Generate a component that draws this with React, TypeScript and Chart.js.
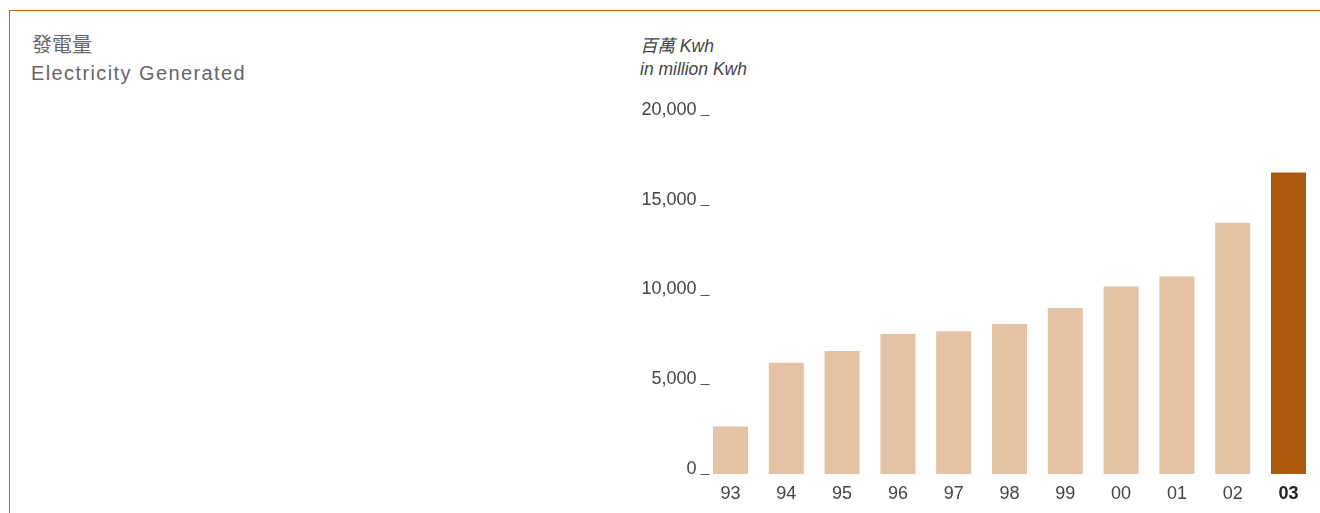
import React, { useEffect, useRef } from "react";
import { Chart, registerables } from "chart.js";

Chart.register(...registerables);

const years = ["93", "94", "95", "96", "97", "98", "99", "00", "01", "02", "03"];
const generated = [2650, 6200, 6850, 7800, 7950, 8350, 9250, 10450, 11000, 14000, 16800];
const yTicks = [0, 5000, 10000, 15000, 20000];

const LIGHT = "#e5c2a4";
const DARK = "#ab5a10";
const FONT = "'Liberation Sans', Arial, Helvetica, sans-serif";

const tickMarks = {
  id: "tickMarks",
  afterDraw(chart: any) {
    const y = chart.scales.y;
    const ctx = chart.ctx;
    const left = chart.chartArea.left;
    ctx.save();
    ctx.strokeStyle = "#555";
    ctx.lineWidth = 1;
    for (const v of yTicks) {
      const py = Math.round(y.getPixelForValue(v)) + 0.5;
      ctx.beginPath();
      ctx.moveTo(left - 2, py);
      ctx.lineTo(left + 7, py);
      ctx.stroke();
    }
    ctx.restore();
  },
};

export default function App() {
  const ref = useRef<HTMLCanvasElement | null>(null);

  useEffect(() => {
    if (!ref.current) return;
    const last = years.length - 1;
    const chart = new Chart(ref.current, {
      type: "bar",
      data: {
        labels: years,
        datasets: [
          {
            data: generated,
            backgroundColor: generated.map((_, i) => (i === last ? DARK : LIGHT)),
            borderWidth: 0,
            barPercentage: 0.627,
            categoryPercentage: 1,
          },
        ],
      },
      options: {
        animation: false,
        responsive: false,
        maintainAspectRatio: false,
        layout: { padding: { left: 0, right: 3.6, top: 25, bottom: 0 } },
        plugins: { legend: { display: false }, tooltip: { enabled: false }, title: { display: false } },
        scales: {
          x: {
            offset: true,
            border: { display: false },
            grid: { display: false, drawTicks: false },
            afterFit: (s: any) => {
              s.height = 39;
            },
            ticks: {
              padding: 9,
              font: (c: any) => ({
                family: FONT,
                size: 18,
                weight: c.index === last ? "bold" : "normal",
              }),
              color: (c: any) => (c.index === last ? "#222" : "#444"),
            },
          },
          y: {
            min: 0,
            max: 20000,
            border: { display: false },
            grid: { display: false, drawTicks: false },
            afterFit: (s: any) => {
              s.width = 82.6;
            },
            afterBuildTicks: (s: any) => {
              s.ticks = yTicks.map((v) => ({ value: v }));
            },
            ticks: {
              padding: 6,
              labelOffset: -5,
              font: { family: FONT, size: 18 },
              color: "#444",
              callback: (v: any) => Number(v).toLocaleString("en-US"),
            },
          },
        },
      },
      plugins: [tickMarks],
    });
    return () => chart.destroy();
  }, []);

  return (
    <div
      style={{
        position: "fixed",
        left: 0,
        top: 0,
        width: 1320,
        height: 513,
        overflow: "hidden",
        background: "#fff",
        fontFamily: FONT,
      }}
    >
      <div
        style={{
          position: "absolute",
          left: 9,
          top: 10,
          width: 1400,
          height: 600,
          borderTop: "1.5px solid #bb641c",
          borderLeft: "1.5px solid #bb641c",
        }}
      />
      <div
        style={{
          position: "absolute",
          left: 32,
          top: 33,
          fontSize: 20,
          lineHeight: "22px",
          color: "#666",
          fontFamily: "'Noto Sans CJK TC', 'Noto Sans CJK SC', sans-serif",
          whiteSpace: "nowrap",
        }}
      >
        發電量
      </div>
      <div
        style={{
          position: "absolute",
          left: 31,
          top: 63,
          fontSize: 20,
          lineHeight: "20px",
          letterSpacing: "1.4px",
          color: "#666",
          whiteSpace: "nowrap",
        }}
      >
        Electricity Generated
      </div>
      <div
        style={{
          position: "absolute",
          left: 640,
          top: 35,
          fontSize: 17.5,
          lineHeight: "20px",
          fontStyle: "italic",
          color: "#444",
          whiteSpace: "nowrap",
        }}
      >
        <span style={{ fontFamily: "'Noto Sans CJK TC', sans-serif", fontStyle: "italic" }}>百萬</span> Kwh
      </div>
      <div
        style={{
          position: "absolute",
          left: 640,
          top: 59,
          fontSize: 17.5,
          lineHeight: "20px",
          fontStyle: "italic",
          color: "#444",
          whiteSpace: "nowrap",
        }}
      >
        in million Kwh
      </div>
      <canvas
        ref={ref}
        width={700}
        height={423}
        style={{ position: "absolute", left: 620, top: 90, width: 700, height: 423 }}
      />
    </div>
  );
}
